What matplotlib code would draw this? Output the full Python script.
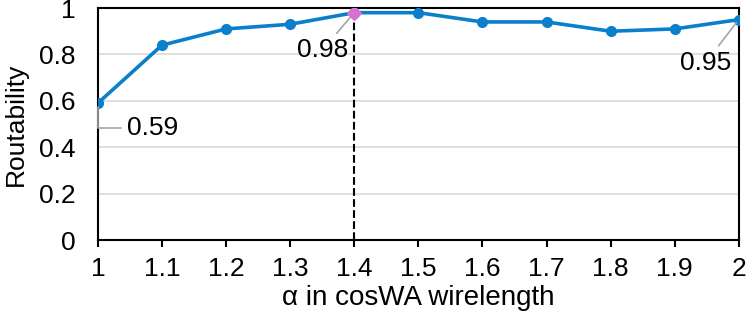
import matplotlib.pyplot as plt

plt.rcParams['font.family'] = ['Liberation Sans', 'DejaVu Sans']

alpha = [1.0, 1.1, 1.2, 1.3, 1.4, 1.5, 1.6, 1.7, 1.8, 1.9, 2.0]
routability = [0.59, 0.84, 0.91, 0.93, 0.98, 0.98, 0.94, 0.94, 0.90, 0.91, 0.95]
x_labels = ['1', '1.1', '1.2', '1.3', '1.4', '1.5', '1.6', '1.7', '1.8', '1.9', '2']
y_ticks = [0, 0.2, 0.4, 0.6, 0.8, 1]
y_labels = ['0', '0.2', '0.4', '0.6', '0.8', '1']
best_idx = 4
fs = 19

fig = plt.figure(figsize=(7.47, 3.21), dpi=100)
ax = fig.add_axes([0.131, 0.252, 0.858, 0.723])

ax.plot(alpha, routability, color='#0a80cc', lw=2.6, marker='o', ms=7, zorder=3)
ax.plot(alpha[best_idx], routability[best_idx], marker='D', ms=7,
        color='#d872d2', zorder=4)
ax.plot([alpha[best_idx], alpha[best_idx]], [0, routability[best_idx]],
        color='black', ls='--', lw=1.5, zorder=2)

# data labels with grey leader lines
leader = dict(arrowstyle='-', color='#a6a6a6', lw=1.2, shrinkA=2, shrinkB=3)
ax.annotate('0.59', xy=(alpha[0], routability[0]), xytext=(21, -18),
            textcoords='offset points', fontsize=fs, va='center', ha='left',
            arrowprops=dict(leader, relpos=(0, 0.5),
                            connectionstyle='angle,angleA=0,angleB=90,rad=0'))
ax.annotate('0.98', xy=(alpha[best_idx], routability[best_idx]), xytext=(-23, -27),
            textcoords='offset points', fontsize=fs, va='center', ha='center',
            arrowprops=leader)
ax.annotate('0.95', xy=(alpha[-1], routability[-1]), xytext=(-24, -31),
            textcoords='offset points', fontsize=fs, va='center', ha='center',
            arrowprops=leader)

ax.set_xlim(1, 2)
ax.set_ylim(0, 1)
ax.set_xticks(alpha)
ax.set_xticklabels(x_labels)
ax.set_yticks(y_ticks)
ax.set_yticklabels(y_labels)
ax.yaxis.grid(True, color='#d9d9d9', lw=1.2)
ax.set_axisbelow(True)
ax.tick_params(axis='x', direction='out', length=5, width=1.5, labelsize=fs, pad=7)
ax.tick_params(axis='y', length=0, labelsize=fs, pad=16)
for s in ax.spines.values():
    s.set_linewidth(1.5)
    s.set_color('black')

ax.set_xlabel('α in cosWA wirelength', fontsize=20, labelpad=3)
ax.set_ylabel('Routability', fontsize=fs, labelpad=8)

fig.savefig('out.png', dpi=100)
